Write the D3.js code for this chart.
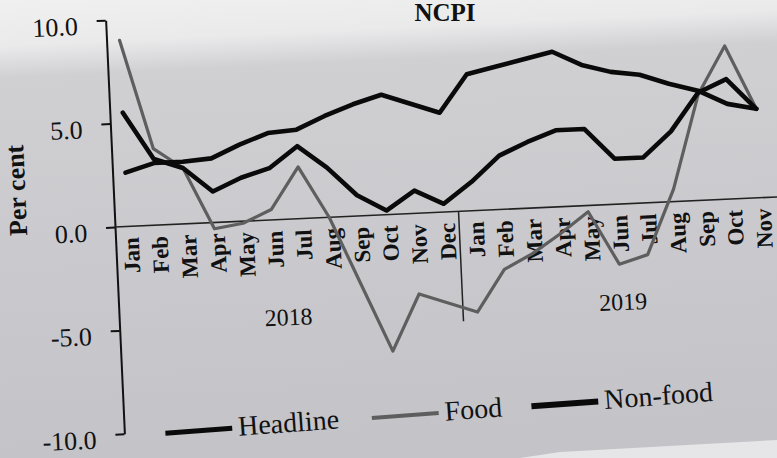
<!DOCTYPE html>
<html>
<head>
<meta charset="utf-8">
<script src="https://cdn.jsdelivr.net/npm/d3@7"></script>
<style>
  html, body { margin: 0; padding: 0; background: #c6c6ca; }
  svg { display: block; }
  text { font-family: "Liberation Serif", "Times New Roman", serif; fill: #111; }
</style>
</head>
<body>
<svg id="chart" width="777" height="458"></svg>
<script>
// ---- data ----
const months = ["Jan","Feb","Mar","Apr","May","Jun","Jul","Aug","Sep","Oct","Nov","Dec",
                "Jan","Feb","Mar","Apr","May","Jun","Jul","Aug","Sep","Oct","Nov"];
const years = ["2018", "2019"];
const headline = [5.5,3.2,2.7,1.5,2.1,2.5,3.5,2.4,1.0,0.2,1.1,0.4,
                  1.4,2.6,3.2,3.7,3.7,2.2,2.2,3.4,5.2,5.8,4.3];
const food     = [9.0,3.7,2.7,-0.3,-0.1,0.5,2.5,0.0,-3.3,-6.6,-3.9,-4.4,
                  -4.9,-2.9,-2.2,-1.3,-0.3,-2.9,-2.5,0.6,5.1,7.4,4.3];
const nonfood  = [2.6,3.0,3.0,3.1,3.7,4.2,4.3,4.9,5.4,5.8,5.3,4.8,
                  6.6,6.9,7.2,7.5,6.8,6.4,6.2,5.7,5.3,4.6,4.3];
const yTicks = [-10, -5, 0, 5, 10];
const seriesNames = ["Headline", "Food", "Non-food"];

// ---- layout ----
const svg = d3.select("#chart");
const W = 777, H = 458;

// paper background
const defs = svg.append("defs");
const grad = defs.append("linearGradient").attr("id","paper")
  .attr("x1",0).attr("y1",0).attr("x2",0.08).attr("y2",1);
grad.append("stop").attr("offset","0%").attr("stop-color","#f0f0f0");
grad.append("stop").attr("offset","10%").attr("stop-color","#eaeaeb");
grad.append("stop").attr("offset","17%").attr("stop-color","#d0d0d3");
grad.append("stop").attr("offset","100%").attr("stop-color","#c3c3c8");
svg.append("rect").attr("width",W).attr("height",H).attr("fill","url(#paper)");
svg.append("path").attr("d","M520,458 L560,452 L777,440 L777,458 Z").attr("fill","#e6e6e8");

// title (at the top edge)
svg.append("text").attr("x",445).attr("y",21).attr("text-anchor","middle")
  .attr("font-size",25).attr("font-weight","bold").text("NCPI");

// rotated chart frame (photo is tilted)
const g = svg.append("g").attr("transform","rotate(-2.6,115,227)");

const x = d3.scaleLinear().domain([0, months.length - 1]).range([128, 761]);
const y = d3.scaleLinear().domain([-10, 10]).range([434, 20]);

// y axis
const yAxis = d3.axisLeft(y).tickValues(yTicks).tickSize(9).tickSizeOuter(0)
  .tickPadding(19).tickFormat(d => d.toFixed(1));
const ya = g.append("g").attr("transform","translate(115,0)").call(yAxis);
ya.select(".domain").attr("stroke","#111").attr("stroke-width",2);
ya.selectAll(".tick line").attr("stroke","#111").attr("stroke-width",2);
ya.selectAll(".tick text").attr("font-size",26).attr("font-family","Liberation Serif")
  .attr("fill","#111").attr("dy","0.5em");

// y title
g.append("text").attr("transform","translate(27,186) rotate(-90)")
  .attr("text-anchor","middle").attr("font-size",26).attr("font-weight","bold")
  .text("Per cent");

// zero line
g.append("line").attr("x1",115).attr("x2",820).attr("y1",y(0)).attr("y2",y(0))
  .attr("stroke","#222").attr("stroke-width",1.6);

// month axis
const xAxis = d3.axisBottom(x).tickValues(d3.range(months.length)).tickSize(0)
  .tickFormat(i => months[i]);
const xa = g.append("g").attr("transform",`translate(0,${y(0)})`).call(xAxis);
xa.select(".domain").remove();
xa.selectAll(".tick text").attr("font-size",23).attr("font-weight","bold")
  .attr("font-family","Liberation Serif").attr("fill","#111")
  .attr("transform","rotate(-90)").attr("text-anchor","end")
  .attr("x",-11).attr("y",0).attr("dy","0.42em");

// year divider
g.append("line").attr("x1",x(11.5)).attr("x2",x(11.5))
  .attr("y1",y(0)).attr("y2",y(0) + 110).attr("stroke","#222").attr("stroke-width",1.5);

// year labels
g.selectAll(".year").data(years).enter().append("text").attr("class","year")
  .attr("x",(d,i) => i === 0 ? x(5.5) - 2 : x(17) + 2)
  .attr("y", y(0) + 106).attr("text-anchor","middle").attr("font-size",24)
  .text(d => d);

// lines
const line = d3.line().x((d,i) => x(i)).y(d => y(d)).curve(d3.curveLinear);
const styles = [
  {data: food, stroke: "#5e5e5e", width: 3.2},
  {data: headline, stroke: "#0a0a0a", width: 4.6},
  {data: nonfood, stroke: "#0a0a0a", width: 4.6}
];
styles.forEach(s => {
  g.append("path").datum(s.data).attr("d", line).attr("fill","none")
    .attr("stroke", s.stroke).attr("stroke-width", s.width)
    .attr("stroke-linejoin","round").attr("stroke-linecap","round");
});

// legend
const legendX = [156, 363, 523];
const legendStroke = ["#0a0a0a", "#5e5e5e", "#0a0a0a"];
const legendWidth = [5, 4, 6];
const lg = g.append("g").attr("transform","rotate(-1.6,380,432)");
seriesNames.forEach((name, i) => {
  lg.append("line").attr("x1", legendX[i]).attr("x2", legendX[i] + 67)
    .attr("y1", 429).attr("y2", 429)
    .attr("stroke", legendStroke[i]).attr("stroke-width", legendWidth[i]);
  lg.append("text").attr("x", legendX[i] + 73).attr("y", 437)
    .attr("font-size", 28).text(name);
});
</script>
</body>
</html>
